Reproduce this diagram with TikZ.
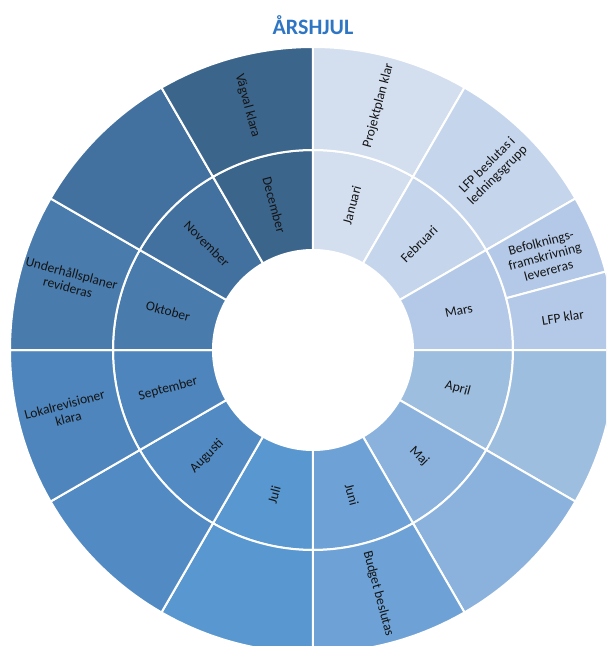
\documentclass[tikz,border=0pt]{standalone}
\usepackage{fontspec}
\setmainfont{Carlito}

\definecolor{jan}{RGB}{211,222,239}
\definecolor{feb}{RGB}{197,213,236}
\definecolor{mar}{RGB}{180,201,231}
\definecolor{apr}{RGB}{158,190,224}
\definecolor{maj}{RGB}{139,178,221}
\definecolor{jun}{RGB}{110,162,215}
\definecolor{jul}{RGB}{88,151,207}
\definecolor{aug}{RGB}{82,139,195}
\definecolor{sep}{RGB}{78,133,188}
\definecolor{okt}{RGB}{73,124,173}
\definecolor{nov}{RGB}{67,113,159}
\definecolor{dec}{RGB}{60,101,140}
\definecolor{titelbla}{RGB}{46,117,196}

\begin{document}
\begin{tikzpicture}[x=1pt, y=1pt]
    \tikzstyle{seg}=[draw=white, line width=2pt]
    \tikzstyle{lbl}=[text=black!92, font=\fontsize{13.5}{14.5}\selectfont, align=center, inner sep=1pt]

    \useasboundingbox (-313,-296) rectangle (293,350);
    \clip (-313,-296) rectangle (293,350);

    % inre ring: manader
    \foreach \a/\c in {90/jan, 60/feb, 30/mar, 0/apr, -30/maj, -60/jun,
                       -90/jul, -120/aug, -150/sep, -180/okt, -210/nov, -240/dec}
        \fill[seg, fill=\c] (\a:100) arc[start angle=\a, end angle=\a-30, radius=100]
            -- (\a-30:200) arc[start angle=\a-30, end angle=\a, radius=200] -- cycle;

    % yttre ring
    \foreach \a/\b/\c in {90/60/jan, 60/30/feb, 30/15/mar, 15/0/mar, 0/-30/apr,
                          -30/-60/maj, -60/-90/jun, -90/-120/jul, -120/-150/aug,
                          -150/-180/sep, 180/150/okt, 150/120/nov, 120/90/dec}
        \fill[seg, fill=\c] (\a:200) arc[start angle=\a, end angle=\b, radius=200]
            -- (\b:303) arc[start angle=\b, end angle=\a, radius=303] -- cycle;

    \node (titel) [anchor=base, text=titelbla, font=\fontsize{22}{24}\selectfont\bfseries] at (0,315) {ÅRSHJUL};

    \node (m1)  [lbl, rotate=75]  at (75:150)  {Januari};
    \node (m2)  [lbl, rotate=45]  at (45:150)  {Februari};
    \node (m3)  [lbl, rotate=12]  at (15:151)  {Mars};
    \node (m4)  [lbl, rotate=-15] at (-15:150) {April};
    \node (m5)  [lbl, rotate=-45] at (-45:150) {Maj};
    \node (m6)  [lbl, rotate=-75] at (-75:150) {Juni};
    \node (m7)  [lbl, rotate=75]  at (-105:150) {Juli};
    \node (m8)  [lbl, rotate=45]  at (-135:150) {Augusti};
    \node (m9)  [lbl, rotate=15]  at (-165:150) {September};
    \node (m10) [lbl, rotate=-15] at (165:150) {Oktober};
    \node (m11) [lbl, rotate=-45] at (135:150) {November};
    \node (m12) [lbl, rotate=-75] at (105:150) {December};

    \node (projplan) [lbl, rotate=75]  at (75:253)  {Projektplan klar};
    \node (lfpbesl)  [lbl, rotate=45]  at (45:254)  {LFP beslutas i\\ledningsgrupp};
    \node (befolk)   [lbl, rotate=15]  at (22:250)  {Befolknings-\\framskrivning\\levereras};
    \node (lfpklar)  [lbl, rotate=9]   at (7.5:252) {LFP klar};
    \node (budget)   [lbl, rotate=-75] at (-75:252) {Budget beslutas};
    \node (lokalrev) [lbl, rotate=15]  at (194:254) {Lokalrevisioner\\klara};
    \node (underh)   [lbl, rotate=-15] at (164:253) {Underhållsplaner\\revideras};
    \node (vagval)   [lbl, rotate=-75] at (105:253) {Vägval klara};
\end{tikzpicture}
\end{document}
